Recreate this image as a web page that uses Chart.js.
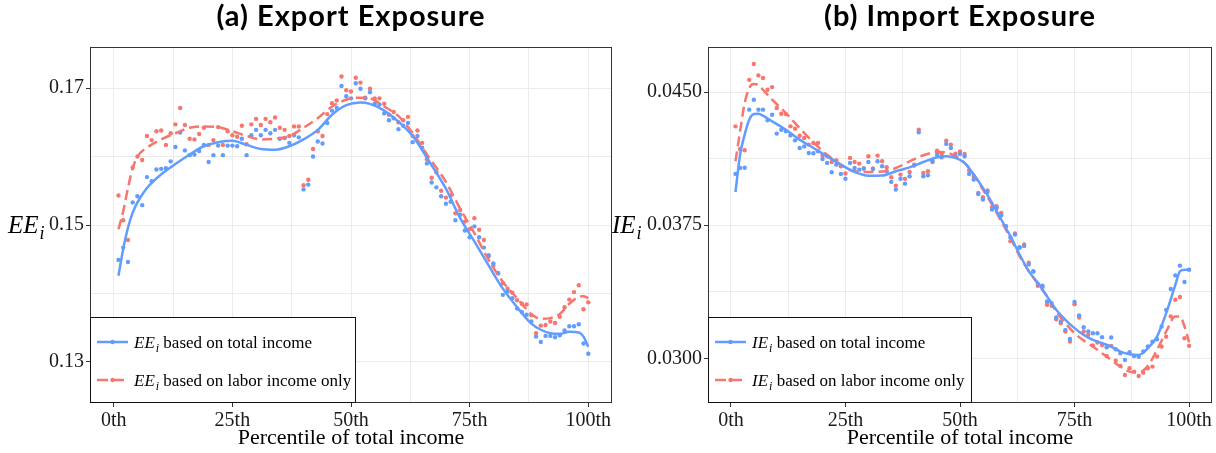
<!DOCTYPE html>
<html>
<head>
<meta charset="utf-8">
<script src="https://cdn.jsdelivr.net/npm/chart.js@4.4.1/dist/chart.umd.min.js"></script>
<style>
  body { margin: 0; background: #fff; }
  #wrap { position: relative; width: 1216px; height: 453px; }
  canvas { position: absolute; top: 0; }
</style>
</head>
<body>
<div id="wrap">
  <canvas id="exportChart" width="616" height="453" style="left:0px"></canvas>
  <canvas id="importChart" width="612" height="453" style="left:604px"></canvas>
</div>
<script>
// percentiles of total income (1..100)
var pct = Array.from({length: 100}, function (_, i) { return i + 1; });

// (a) export exposure, binned points
var eeTotal = [0.1449,0.1467,0.1446,0.1533,0.1542,0.1529,0.1570,0.1564,0.1581,0.1582,
  0.1583,0.1593,0.1614,0.1635,0.1609,0.1602,0.1603,0.1608,0.1617,0.1592,
  0.1602,0.1616,0.1602,0.1616,0.1616,0.1615,0.1626,0.1602,0.1631,0.1639,
  0.1631,0.1639,0.1634,0.1639,0.1626,0.1627,0.1620,0.1631,0.1628,0.1552,
  0.1559,0.1600,0.1622,0.1619,0.1649,0.1667,0.1671,0.1703,0.1688,0.1685,
  0.1707,0.1699,0.1685,0.1694,0.1677,0.1676,0.1663,0.1653,0.1656,0.1640,
  0.1645,0.1649,0.1621,0.1630,0.1613,0.1590,0.1562,0.1555,0.1542,0.1531,
  0.1534,0.1507,0.1515,0.1492,0.1482,0.1498,0.1482,0.1467,0.1456,0.1444,
  0.1430,0.1398,0.1403,0.1393,0.1378,0.1373,0.1369,0.1359,0.1337,0.1329,
  0.1338,0.1338,0.1336,0.1339,0.1346,0.1352,0.1352,0.1355,0.1327,0.1312];
var eeLabor = [0.1543,0.1507,0.1478,0.1584,0.1600,0.1595,0.1630,0.1624,0.1637,0.1638,
  0.1617,0.1634,0.1647,0.1671,0.1646,0.1626,0.1625,0.1633,0.1642,0.1617,
  0.1624,0.1643,0.1617,0.1637,0.1631,0.1629,0.1645,0.1618,0.1647,0.1655,
  0.1646,0.1655,0.1650,0.1657,0.1642,0.1639,0.1630,0.1644,0.1644,0.1558,
  0.1566,0.1611,0.1637,0.1630,0.1662,0.1678,0.1682,0.1717,0.1697,0.1695,
  0.1715,0.1708,0.1686,0.1699,0.1685,0.1685,0.1677,0.1661,0.1665,0.1650,
  0.1653,0.1658,0.1630,0.1638,0.1620,0.1596,0.1569,0.1577,0.1550,0.1540,
  0.1543,0.1517,0.1522,0.1505,0.1494,0.1510,0.1493,0.1478,0.1454,0.1441,
  0.1429,0.1415,0.1407,0.1401,0.1390,0.1385,0.1384,0.1368,0.1342,0.1353,
  0.1354,0.1359,0.1357,0.1366,0.1380,0.1391,0.1402,0.1412,0.1377,0.1387];

// (a) smoothed fits
var eeFitPct = [1,2,3,4,5,7,10,13,16,19,22,25,28,31,34,37,40,43,46,49,
  52,54,57,60,63,66,70,73,76,79,82,85,88,90,92,94,96,98,99,100];
var eeTotalFit = [0.1426,0.1465,0.1496,0.1518,0.1533,0.1554,0.1574,0.1589,0.1603,0.1615,
  0.1621,0.1623,0.1617,0.1611,0.1610,0.1615,0.1625,0.1639,0.1661,0.1675,
  0.1679,0.1677,0.1667,0.1651,0.1630,0.1598,0.1553,0.1510,0.1476,0.1441,
  0.1407,0.1380,0.1356,0.1347,0.1342,0.1341,0.1344,0.1343,0.1337,0.1322];
var eeLaborFit = [0.1494,0.1520,0.1554,0.1583,0.1600,0.1613,0.1625,0.1634,0.1642,0.1644,
  0.1643,0.1637,0.1630,0.1625,0.1626,0.1630,0.1642,0.1656,0.1673,0.1683,
  0.1686,0.1685,0.1673,0.1659,0.1634,0.1603,0.1563,0.1524,0.1488,0.1449,
  0.1417,0.1393,0.1370,0.1363,0.1364,0.1370,0.1385,0.1395,0.1396,0.1393];

// (b) import exposure, binned points
var ieTotal = [0.04039,0.04072,0.04074,0.04401,0.04457,0.04401,0.04401,0.04341,0.04372,0.04266,
  0.04288,0.04279,0.04256,0.04228,0.04185,0.04194,0.04157,0.04155,0.04166,0.04123,
  0.04101,0.04048,0.04091,0.04039,0.04012,0.04101,0.04072,0.04063,0.04069,0.04106,
  0.04067,0.04110,0.04082,0.04054,0.03994,0.03951,0.04012,0.03984,0.04026,0.04086,
  0.04273,0.04026,0.04031,0.04110,0.04147,0.04133,0.04208,0.04185,0.04138,0.04151,
  0.04138,0.04039,0.04007,0.03926,0.03894,0.03937,0.03838,0.03847,0.03806,0.03744,
  0.03682,0.03697,0.03623,0.03632,0.03529,0.03488,0.03418,0.03409,0.03320,0.03311,
  0.03230,0.03207,0.03160,0.03109,0.03317,0.03241,0.03175,0.03151,0.03141,0.03141,
  0.03119,0.03062,0.03117,0.03051,0.03028,0.02991,0.03034,0.03013,0.03009,0.03038,
  0.03066,0.03094,0.03107,0.03179,0.03273,0.03390,0.03467,0.03522,0.03430,0.03499];
var ieLabor = [0.04307,0.04179,0.04172,0.04569,0.04658,0.04594,0.04579,0.04513,0.04528,0.04410,
  0.04378,0.04376,0.04307,0.04294,0.04254,0.04241,0.04204,0.04213,0.04213,0.04142,
  0.04138,0.04106,0.04116,0.04082,0.04041,0.04129,0.04106,0.04097,0.04069,0.04138,
  0.04069,0.04142,0.04110,0.04076,0.04020,0.03973,0.04035,0.04011,0.04050,0.04091,
  0.04288,0.04044,0.04054,0.04106,0.04170,0.04151,0.04226,0.04204,0.04153,0.04166,
  0.04151,0.04059,0.04026,0.03932,0.03908,0.03945,0.03851,0.03857,0.03819,0.03744,
  0.03660,0.03703,0.03626,0.03641,0.03538,0.03491,0.03409,0.03401,0.03302,0.03296,
  0.03220,0.03198,0.03151,0.03094,0.03305,0.03230,0.03151,0.03132,0.03072,0.03089,
  0.03075,0.03013,0.03070,0.02987,0.02957,0.02906,0.02944,0.02925,0.02900,0.02919,
  0.02944,0.02953,0.03010,0.03066,0.03122,0.03236,0.03330,0.03345,0.03113,0.03070];

// (b) smoothed fits
var ieFitPct = [1,2,3,4,5,6,7,9,12,15,18,21,24,27,30,33,36,39,42,45,
  47,49,51,53,55,57,59,61,63,65,67,69,71,73,75,77,79,81,83,85,
  87,89,91,93,95,97,98,99,100];
var ieTotalFit = [0.03937,0.04147,0.04260,0.04344,0.04376,0.04378,0.04367,0.04335,0.04288,0.04232,
  0.04185,0.04138,0.04091,0.04050,0.04029,0.04030,0.04054,0.04076,0.04106,0.04133,
  0.04138,0.04129,0.04101,0.04035,0.03960,0.03876,0.03782,0.03688,0.03585,0.03491,
  0.03425,0.03349,0.03273,0.03217,0.03170,0.03132,0.03104,0.03085,0.03066,0.03038,
  0.03023,0.03019,0.03057,0.03122,0.03254,0.03414,0.03490,0.03499,0.03499];
var ieLaborFit = [0.04110,0.04279,0.04438,0.04523,0.04545,0.04541,0.04513,0.04457,0.04382,0.04297,
  0.04217,0.04147,0.04091,0.04054,0.04050,0.04052,0.04072,0.04110,0.04144,0.04162,
  0.04160,0.04138,0.04101,0.04035,0.03951,0.03866,0.03772,0.03679,0.03576,0.03491,
  0.03420,0.03349,0.03264,0.03198,0.03141,0.03100,0.03066,0.03028,0.02991,0.02953,
  0.02925,0.02919,0.02957,0.03047,0.03151,0.03236,0.03236,0.03179,0.03090];

// axis breaks
var xTicks = [0, 12.5, 25, 37.5, 50, 62.5, 75, 87.5, 100];
var eeTicks = [0.13, 0.14, 0.15, 0.16, 0.17];
var eeLabels = [0.13, 0.15, 0.17];
var ieTicks = [0.03, 0.03375, 0.0375, 0.04125, 0.045];
var ieLabels = [0.03, 0.0375, 0.045];

var BLUE = '#619CFF', RED = '#F8766D';
var SERIF = '"Liberation Serif", "Times New Roman", serif';

function pts(xs, ys) {
  return xs.map(function (x, i) { return {x: x, y: ys[i]}; });
}

// italic symbol with subscript i, then plain text
function mathText(ctx, x, y, sym, rest, size) {
  ctx.font = 'italic ' + size + 'px ' + SERIF;
  ctx.fillText(sym, x, y);
  x += ctx.measureText(sym).width + 1;
  ctx.font = 'italic ' + Math.round(size * 0.7) + 'px ' + SERIF;
  ctx.fillText('i', x, y + size * 0.22);
  x += ctx.measureText('i').width;
  if (rest) {
    ctx.font = size + 'px ' + SERIF;
    ctx.fillText(rest, x, y);
  }
}

// panel title, frame, y label and boxed legend
var panelDecor = {
  id: 'panelDecor',
  afterDraw: function (chart, args, o) {
    var ctx = chart.ctx, a = chart.chartArea;
    ctx.save();
    ctx.fillStyle = '#000';
    ctx.font = 'bold 29px Lato';
    ctx.letterSpacing = '1px';
    ctx.textAlign = 'center';
    ctx.textBaseline = 'middle';
    ctx.fillText(o.title, (a.left + a.right) / 2, 17);
    ctx.letterSpacing = '0px';

    ctx.strokeStyle = '#333';
    ctx.lineWidth = 1;
    ctx.strokeRect(a.left + 0.5, a.top + 0.5, a.right - a.left - 1, a.bottom - a.top - 1);

    ctx.textAlign = 'left';
    ctx.textBaseline = 'alphabetic';
    mathText(ctx, 8, (a.top + a.bottom) / 2 + 8, o.sym, '', 25);

    var lx = a.left, lh = 86, ly = a.bottom - lh, lw = o.legendWidth;
    ctx.fillStyle = '#fff';
    ctx.fillRect(lx, ly, lw, lh);
    ctx.strokeStyle = '#111';
    ctx.strokeRect(lx + 0.5, ly + 0.5, lw - 1, lh - 1);
    o.items.forEach(function (it, k) {
      var y = ly + 25 + k * 38;
      ctx.strokeStyle = it.color;
      ctx.lineWidth = 2.5;
      ctx.setLineDash(it.dash || []);
      ctx.beginPath();
      ctx.moveTo(lx + 7, y);
      ctx.lineTo(lx + 38, y);
      ctx.stroke();
      ctx.setLineDash([]);
      ctx.fillStyle = it.color;
      ctx.beginPath();
      ctx.arc(lx + 22.5, y, 2.2, 0, 2 * Math.PI);
      ctx.fill();
      ctx.fillStyle = '#000';
      mathText(ctx, lx + 44, y + 6, o.sym, it.text, 17);
    });
    ctx.restore();
  }
};

function makePanel(id, cfg) {
  return new Chart(document.getElementById(id), {
    type: 'scatter',
    data: {
      datasets: [
        { data: pts(cfg.fitPct, cfg.totalFit), showLine: true, borderColor: BLUE, borderWidth: 2.5,
          pointRadius: 0, cubicInterpolationMode: 'monotone', fill: false },
        { data: pts(cfg.fitPct, cfg.laborFit), showLine: true, borderColor: RED, borderWidth: 2.5,
          borderDash: [10, 5], pointRadius: 0, cubicInterpolationMode: 'monotone', fill: false },
        { data: pts(pct, cfg.total), backgroundColor: BLUE, pointRadius: 2.2, borderWidth: 0 },
        { data: pts(pct, cfg.labor), backgroundColor: RED, pointRadius: 2.2, borderWidth: 0 }
      ]
    },
    options: {
      responsive: false,
      animation: false,
      devicePixelRatio: 1,
      events: [],
      layout: { padding: { top: 47, right: cfg.rightPad, left: 0, bottom: 0 } },
      scales: {
        x: {
          type: 'linear', min: -5, max: 105,
          afterBuildTicks: function (s) { s.ticks = xTicks.map(function (v) { return {value: v}; }); },
          afterFit: function (s) { s.height = 50; },
          border: { display: false },
          grid: {
            color: '#ebebeb', lineWidth: 1, tickLength: 4,
            tickColor: function (c) { return c.tick && c.tick.value % 25 === 0 ? '#333' : 'rgba(0,0,0,0)'; }
          },
          ticks: {
            autoSkip: false, maxRotation: 0, padding: 2, color: '#1a1a1a',
            font: { family: SERIF, size: 20 },
            callback: function (v) { return v % 25 === 0 ? v + 'th' : ''; }
          },
          title: {
            display: true, text: 'Percentile of total income', color: '#000',
            font: { family: SERIF, size: 22 }, padding: { top: 0, bottom: 2 }
          }
        },
        y: {
          type: 'linear', min: cfg.yMin, max: cfg.yMax,
          afterBuildTicks: function (s) { s.ticks = cfg.yTicks.map(function (v) { return {value: v}; }); },
          afterFit: function (s) { s.width = cfg.yWidth; },
          border: { display: false },
          grid: {
            color: '#ebebeb', lineWidth: 1, tickLength: 4,
            tickColor: function (c) { return c.tick && cfg.yLabels.indexOf(c.tick.value) >= 0 ? '#333' : 'rgba(0,0,0,0)'; }
          },
          ticks: {
            padding: 2, color: '#1a1a1a',
            font: { family: SERIF, size: 20 },
            callback: function (v) { return cfg.yLabels.indexOf(v) >= 0 ? v.toFixed(cfg.digits) : ''; }
          }
        }
      },
      plugins: {
        legend: { display: false },
        tooltip: { enabled: false },
        panelDecor: {
          title: cfg.title,
          sym: cfg.sym,
          legendWidth: cfg.legendWidth,
          items: [
            { color: BLUE, text: ' based on total income' },
            { color: RED, dash: [11, 5], text: ' based on labor income only' }
          ]
        }
      }
    },
    plugins: [panelDecor]
  });
}

makePanel('exportChart', {
  title: '(a) Export Exposure', sym: 'EE',
  total: eeTotal, labor: eeLabor, fitPct: eeFitPct, totalFit: eeTotalFit, laborFit: eeLaborFit,
  yMin: 0.124, yMax: 0.176, yTicks: eeTicks, yLabels: eeLabels, digits: 2,
  yWidth: 90, rightPad: 3, legendWidth: 266
});

makePanel('importChart', {
  title: '(b) Import Exposure', sym: 'IE',
  total: ieTotal, labor: ieLabor, fitPct: ieFitPct, totalFit: ieTotalFit, laborFit: ieLaborFit,
  yMin: 0.02748, yMax: 0.04754, yTicks: ieTicks, yLabels: ieLabels, digits: 4,
  yWidth: 104, rightPad: 4, legendWidth: 264
});
</script>
</body>
</html>
